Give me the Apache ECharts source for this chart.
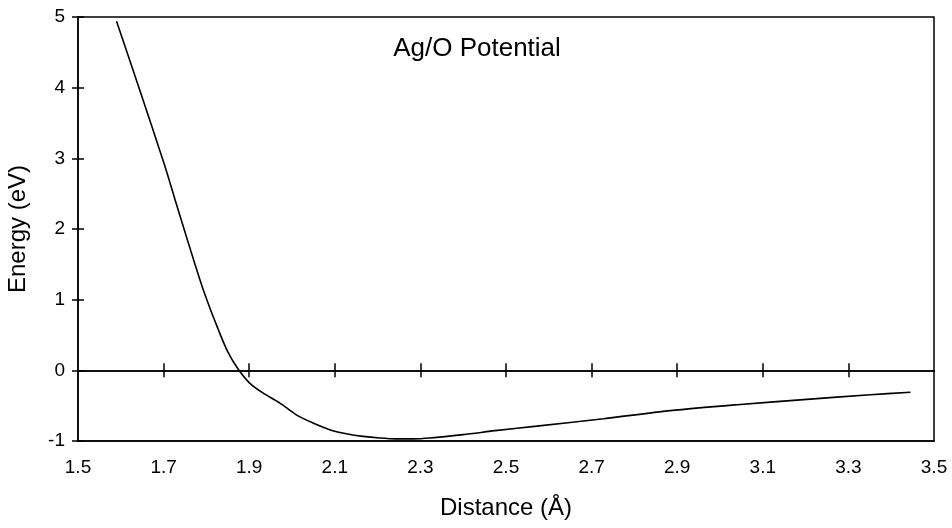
<!DOCTYPE html>
<html>
<head>
<meta charset="utf-8">
<script src="https://cdn.jsdelivr.net/npm/echarts@6/dist/echarts.min.js"></script>
<style>
  html, body { margin: 0; padding: 0; background: #fff; }
  #chart { width: 952px; height: 528px; }
</style>
</head>
<body>
<div id="chart"></div>
<script>
// Ag/O pair potential
const distance = [1.59, 1.644, 1.702, 1.730, 1.761, 1.791, 1.823, 1.850, 1.876,
  1.901, 1.932, 1.971, 2.010, 2.049, 2.088, 2.127, 2.166, 2.205, 2.244, 2.283,
  2.322, 2.40, 2.48, 2.572, 2.728, 2.884, 3.04, 3.195, 3.351, 3.445];
const energy = [4.94, 3.97, 2.91, 2.35, 1.74, 1.17, 0.65, 0.26, 0.0,
  -0.18, -0.32, -0.46, -0.63, -0.745, -0.84, -0.897, -0.935, -0.958, -0.97, -0.97,
  -0.958, -0.91, -0.85, -0.79, -0.685, -0.57, -0.486, -0.415, -0.345, -0.31];

const xLabelValues = [1.5, 1.7, 1.9, 2.1, 2.3, 2.5, 2.7, 2.9, 3.1, 3.3, 3.5];
const xTickValues = [1.7, 1.9, 2.1, 2.3, 2.5, 2.7, 2.9, 3.1, 3.3];

const FONT = 'Liberation Sans, Arial, sans-serif';
const BLACK = { color: '#000', width: 1.5 };
const chart = echarts.init(document.getElementById('chart'));

const gridRect = { left: 78, right: 18, top: 17, bottom: 87, outerBoundsMode: 'none' };

// tick-only axes sitting on the zero line, one per grid so they cross it
const zeroTicks = (grid, pos) => ({
  type: 'value', gridIndex: grid, min: 1.5, max: 3.5, position: pos,
  axisLine: { show: true, onZero: true, lineStyle: BLACK },
  axisTick: { show: true, length: 7, customValues: xTickValues, lineStyle: BLACK },
  axisLabel: { show: false },
  splitLine: { show: false }
});

chart.setOption({
  animation: false,
  backgroundColor: '#fff',
  title: {
    text: 'Ag/O Potential', left: 472, top: 31, textAlign: 'center',
    textStyle: { fontFamily: FONT, fontSize: 26, fontWeight: 'normal', color: '#000' }
  },
  grid: [
    Object.assign({ show: true, borderColor: '#000', borderWidth: 1.5 }, gridRect),
    Object.assign({ show: false }, gridRect)
  ],
  xAxis: [
    {
      type: 'value', gridIndex: 0, min: 1.5, max: 3.5, position: 'bottom',
      name: 'Distance (Å)', nameLocation: 'middle', nameGap: 55,
      nameTextStyle: { fontFamily: FONT, fontSize: 24, color: '#000' },
      axisLine: { show: true, onZero: false, lineStyle: BLACK },
      axisTick: { show: false },
      axisLabel: { customValues: xLabelValues, margin: 17, color: '#000',
        fontFamily: FONT, fontSize: 19, formatter: v => v.toFixed(1) },
      splitLine: { show: false }
    },
    zeroTicks(0, 'top'),
    zeroTicks(1, 'bottom')
  ],
  yAxis: [
    {
      type: 'value', gridIndex: 0, min: -1, max: 5, interval: 1, position: 'left',
      name: 'Energy (eV)', nameLocation: 'middle', nameGap: 48,
      nameTextStyle: { fontFamily: FONT, fontSize: 24, color: '#000' },
      axisLine: { show: true, lineStyle: BLACK },
      axisTick: { show: true, length: 6, lineStyle: BLACK },
      axisLabel: { margin: 13, color: '#000', fontFamily: FONT, fontSize: 19 },
      splitLine: { show: false }
    },
    {
      type: 'value', gridIndex: 1, min: -1, max: 5, interval: 1, position: 'left',
      axisLine: { show: false },
      axisTick: { show: true, inside: true, length: 6, lineStyle: BLACK },
      axisLabel: { show: false },
      splitLine: { show: false }
    }
  ],
  series: [
    {
      type: 'line',
      xAxisIndex: 0, yAxisIndex: 0,
      data: distance.map((d, i) => [d, energy[i]]),
      showSymbol: false, smooth: 0.3,
      lineStyle: { color: '#000', width: 1.6 }
    },
    // empty series so the second (tick-only) grid gets laid out
    { type: 'line', xAxisIndex: 2, yAxisIndex: 1, data: [], showSymbol: false }
  ]
});
</script>
</body>
</html>
